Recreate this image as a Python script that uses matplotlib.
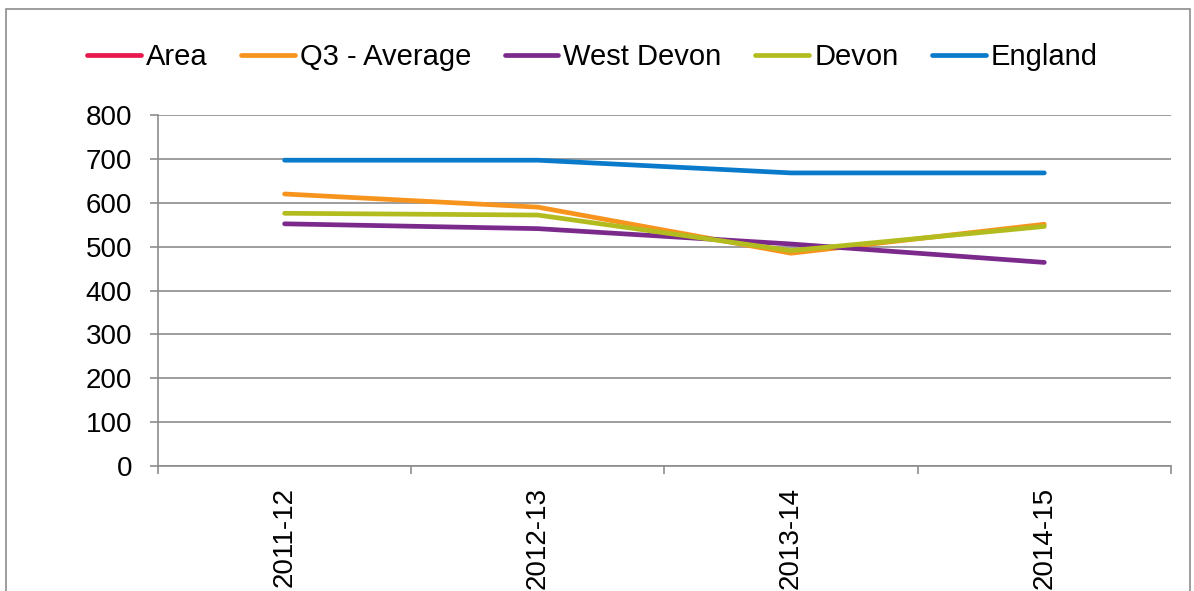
import numpy as np
import matplotlib.pyplot as plt
from matplotlib.patches import Rectangle

plt.rcParams["font.family"] = ["Liberation Sans", "DejaVu Sans"]

# ── Data ──────────────────────────────────────────────────────────────────────
years       = ["2011-12", "2012-13", "2013-14", "2014-15"]
area        = [np.nan, np.nan, np.nan, np.nan]   # legend only, no values drawn
q3_average  = [620, 590, 485, 551]
west_devon  = [552, 541, 506, 464]
devon       = [576, 572, 491, 546]
england     = [697, 697, 668, 668]

series = [
    ("Area", area, "#E8174C"),
    ("Q3 - Average", q3_average, "#F7941D"),
    ("West Devon", west_devon, "#7B2A8C"),
    ("Devon", devon, "#B3BC1F"),
    ("England", england, "#0A7BCB"),
]

GRID = "#8C8C8C"
FS = 20

fig = plt.figure(figsize=(11.94, 5.91), dpi=100)
ax = fig.add_axes([0.1323, 0.2115, 0.8484, 0.5939])

x = np.arange(len(years))
for name, vals, col in series:
    ax.plot(x, vals, color=col, linewidth=3.4, solid_capstyle="round", label=name)

ax.set_xlim(-0.5, len(years) - 0.5)
ax.set_ylim(0, 800)
ax.set_yticks(np.arange(0, 801, 100))
ax.set_xticks(x)
ax.set_xticklabels(years, rotation=90, fontsize=FS)
ax.set_xticks(np.arange(-0.5, len(years), 1), minor=True)
ax.tick_params(axis="x", which="major", length=0, pad=15)
ax.tick_params(axis="x", which="minor", length=5.5, color=GRID, width=1.2)
ax.tick_params(axis="y", length=5.5, color=GRID, width=1.2, labelsize=FS, pad=13)

ax.grid(axis="y", color=GRID, linewidth=1.2)
ax.set_axisbelow(True)
for side in ["top", "right"]:
    ax.spines[side].set_visible(False)
for side in ["left", "bottom"]:
    ax.spines[side].set_color(GRID)
    ax.spines[side].set_linewidth(1.2)

fig.legend(loc="center", bbox_to_anchor=(0.496, 0.903), ncol=5, frameon=False,
           fontsize=21, handlelength=1.85, handletextpad=0.17, columnspacing=1.15)

# chart area border (bottom edge cropped off in the original)
fig.add_artist(Rectangle((6 / 1194, -0.1), 1184 / 1194, 1.1 - 9 / 591,
                         transform=fig.transFigure, fill=False,
                         edgecolor="#8C8C8C", linewidth=1.2))

plt.savefig("out.png", dpi=100)
